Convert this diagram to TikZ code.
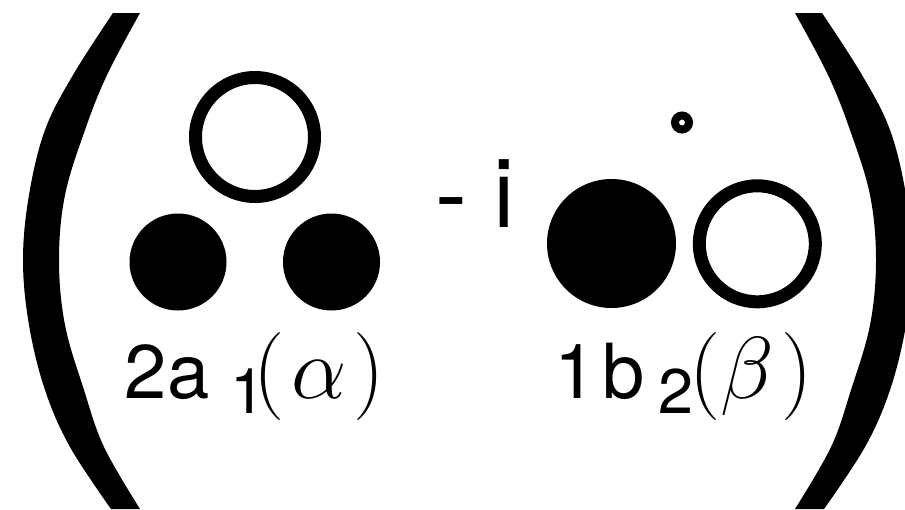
\RequirePackage{fix-cm}
\documentclass[tikz,border=0pt]{standalone}
\usepackage{fontspec}
\setmainfont{TeX Gyre Heros}
\newcommand{\mainsz}{\fontsize{76}{80}\selectfont}
\newcommand{\subsz}{\fontsize{63}{66}\selectfont}
\newcommand{\mathsz}{\fontsize{88}{96}\selectfont}
\begin{document}
\begin{tikzpicture}[x=1pt,y=-1pt,
  ring/.style={circle, draw=black, fill=white, inner sep=0pt},
  dot/.style={circle, fill=black, inner sep=0pt},
  lab/.style={anchor=base west, inner sep=0pt}]
\useasboundingbox (0,0) rectangle (905,509);
\clip (0,0) rectangle (905,509);
% left parenthesis
\fill[black] plot[smooth, tension=0.6] coordinates {(113,13) (73,75) (45,130) (29,195) (23,260) (29,325) (45,390) (70,447) (111,509)}
  -- plot[smooth, tension=0.6] coordinates {(140,509) (104,447) (84,390) (65,325) (59,260) (65,195) (85,130) (107,75) (140,13)} -- cycle;
% right parenthesis (mirror)
\begin{scope}[shift={(935,0)}, xscale=-1]
\fill[black] plot[smooth, tension=0.6] coordinates {(113,13) (73,75) (45,130) (29,195) (23,260) (29,325) (45,390) (70,447) (111,509)}
  -- plot[smooth, tension=0.6] coordinates {(140,509) (104,447) (84,390) (65,325) (59,260) (65,195) (85,130) (107,75) (140,13)} -- cycle;
\end{scope}
% left group
\node[ring, line width=13pt, minimum size=119pt] (top) at (255,137) {};
\node[dot, minimum size=97pt] (dl) at (178,262) {};
\node[dot, minimum size=97pt] (dr) at (331.5,262) {};
\node[lab] (la) at (124.7,398) {\mainsz 2a\kern21pt\raisebox{-15pt}{\subsz 1}\kern-12pt{\mathsz$(\kern7pt\alpha\kern7pt)$}};
% middle
\node[anchor=base west, inner sep=0pt, font=\fontsize{96}{100}\selectfont] (mi) at (435,227) {- i};
% right group
\node[ring, line width=8pt, minimum size=14pt] (small) at (682,122.5) {};
\node[dot, minimum size=129pt] (big) at (611.5,243.5) {};
\node[ring, line width=13pt, minimum size=116pt] (open) at (757.3,243.8) {};
\node[lab] (lb) at (554,398) {\mainsz 1\kern6pt b\kern14pt\raisebox{-15pt}{\subsz 2}\kern-4pt{\mathsz$(\beta\kern7pt)$}};
\end{tikzpicture}
\end{document}
